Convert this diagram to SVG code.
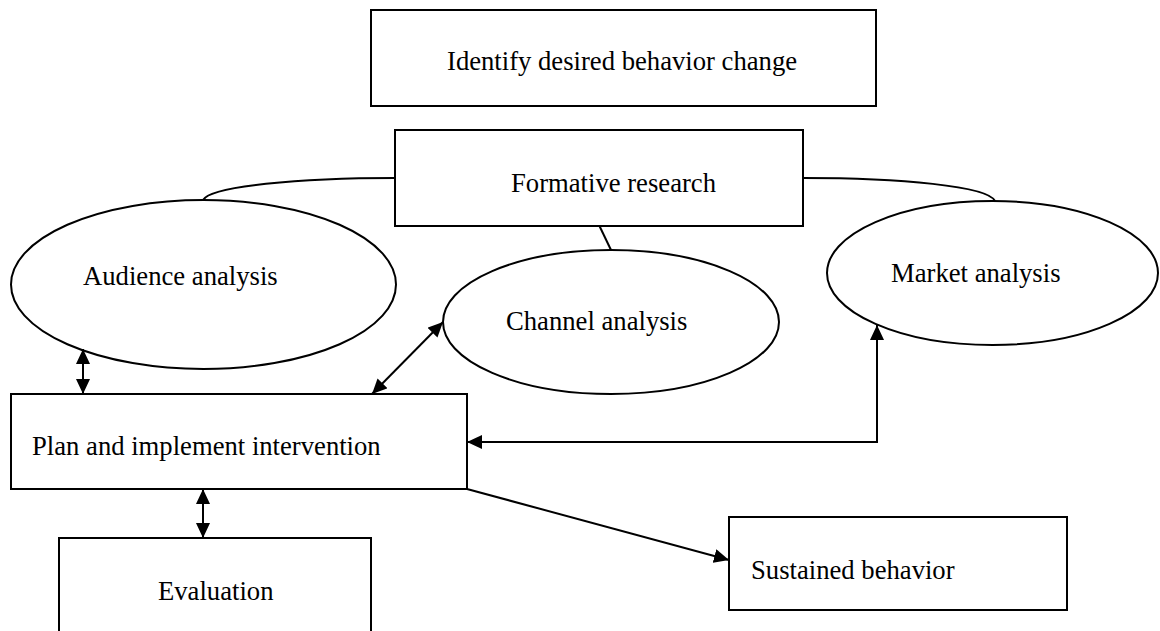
<svg xmlns="http://www.w3.org/2000/svg" width="1160" height="631" viewBox="0 0 1160 631">
<style>
.box{fill:#fff;stroke:#000;stroke-width:2}
.ell{fill:#fff;stroke:#000;stroke-width:2}
.lbl{font-family:"Liberation Serif","Times New Roman",serif;font-size:26.67px;fill:#000}
.con{fill:none;stroke:#000;stroke-width:2}
</style>
<defs>
<marker id="ah" markerUnits="userSpaceOnUse" markerWidth="15" markerHeight="14" refX="15" refY="7" orient="auto-start-reverse">
<path d="M0,0 L15,7 L0,14 z" fill="#000"/>
</marker>
</defs>
<rect width="1160" height="631" fill="#fff"/>
<g id="connectors">
<path class="con" d="M395,178 C300,178 210,186 203,200"/>
<path class="con" d="M803,178 C900,178 988,186 995,201"/>
<line class="con" x1="599" y1="225" x2="611" y2="250"/>
</g>
<g id="n-identify"><rect class="box" x="371" y="10" width="505" height="96"/><text class="lbl" x="447" y="70">Identify desired behavior change</text></g>
<g id="n-formative"><rect class="box" x="395" y="130" width="408" height="96"/><text class="lbl" x="511" y="192">Formative research</text></g>
<g id="n-audience"><ellipse class="ell" cx="203.5" cy="284.5" rx="192.5" ry="84.5"/><text class="lbl" x="83" y="285">Audience analysis</text></g>
<g id="n-channel"><ellipse class="ell" cx="611" cy="322" rx="168" ry="72"/><text class="lbl" x="506" y="330">Channel analysis</text></g>
<g id="n-market"><ellipse class="ell" cx="992.5" cy="273" rx="165.5" ry="72"/><text class="lbl" x="891" y="282">Market analysis</text></g>
<g id="n-plan"><rect class="box" x="11" y="394" width="456" height="95"/><text class="lbl" x="32" y="455">Plan and implement intervention</text></g>
<g id="n-evaluation"><rect class="box" x="59" y="538" width="312" height="110"/><text class="lbl" x="158" y="600">Evaluation</text></g>
<g id="n-sustained"><rect class="box" x="729" y="517" width="338" height="93"/><text class="lbl" x="751" y="579">Sustained behavior</text></g>
<g id="arrows">
<line class="con" x1="83" y1="349" x2="83" y2="394" marker-start="url(#ah)" marker-end="url(#ah)"/>
<line class="con" x1="372" y1="394" x2="443" y2="322" marker-start="url(#ah)" marker-end="url(#ah)"/>
<polyline class="con" points="467,442 877,442 877,325" marker-start="url(#ah)" marker-end="url(#ah)"/>
<line class="con" x1="203" y1="489" x2="203" y2="538" marker-start="url(#ah)" marker-end="url(#ah)"/>
<line class="con" x1="467" y1="489" x2="729" y2="560" marker-end="url(#ah)"/>
</g>
</svg>
